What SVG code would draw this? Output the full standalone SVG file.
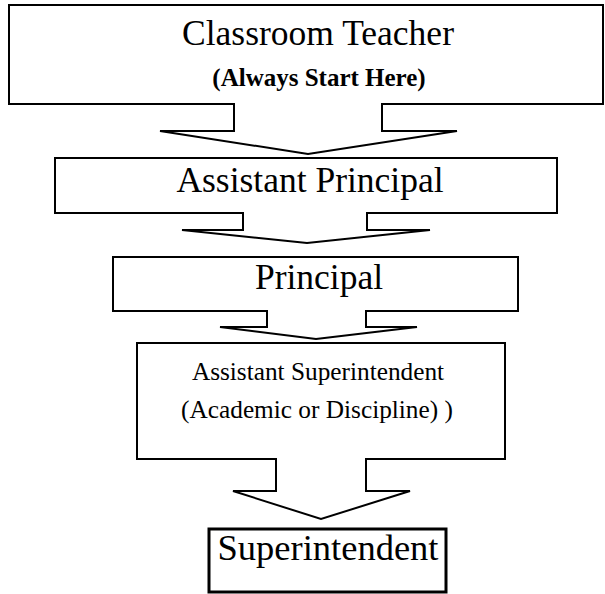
<svg xmlns="http://www.w3.org/2000/svg" width="605" height="594" viewBox="0 0 605 594">
<style>
.box{fill:#fff;stroke:#000;stroke-width:2}
.thick{stroke-width:3}
.arrow{fill:#fff;stroke:#000;stroke-width:2;stroke-linejoin:miter}
text{font-family:"Liberation Serif","Times New Roman",serif;fill:#000;text-anchor:middle}
.big{font-size:35.5px}
.sup{font-size:36.5px}
.mid{font-size:25.3px}
.bold{font-size:25px;font-weight:bold}
</style>
<rect width="605" height="594" fill="#fff"/>
<g id="node-classroom-teacher">
<rect class="box" x="9" y="5" width="594" height="99"/>
<text class="big" x="318" y="45">Classroom Teacher</text>
<text class="bold" x="319" y="86">(Always Start Here)</text>
</g>
<g id="node-assistant-principal">
<rect class="box" x="55" y="158" width="502" height="55"/>
<text class="big" x="310" y="192">Assistant Principal</text>
</g>
<g id="node-principal">
<rect class="box" x="113" y="257" width="405" height="54"/>
<text class="big" x="319" y="289">Principal</text>
</g>
<g id="node-assistant-superintendent">
<rect class="box" x="137" y="343" width="368" height="116"/>
<text class="mid" x="318" y="380">Assistant Superintendent</text>
<text class="mid" x="317" y="418">(Academic or Discipline) )</text>
</g>
<g id="node-superintendent">
<rect class="box thick" x="209" y="529" width="237" height="63"/>
<text class="sup" x="328" y="560">Superintendent</text>
</g>
<g id="connectors">
<path class="arrow" d="M234,103 V131 H160 L308,154 L457,131 H382 V103"/>
<path class="arrow" d="M243,212 V230 H182 L307,243 L430,230 H367 V212"/>
<path class="arrow" d="M267,310 V327 H220 L316,339 L417,327 H366 V310"/>
<path class="arrow" d="M276,458 V491 H233 L321,519 L410,491 H366 V458"/>
</g>
</svg>
